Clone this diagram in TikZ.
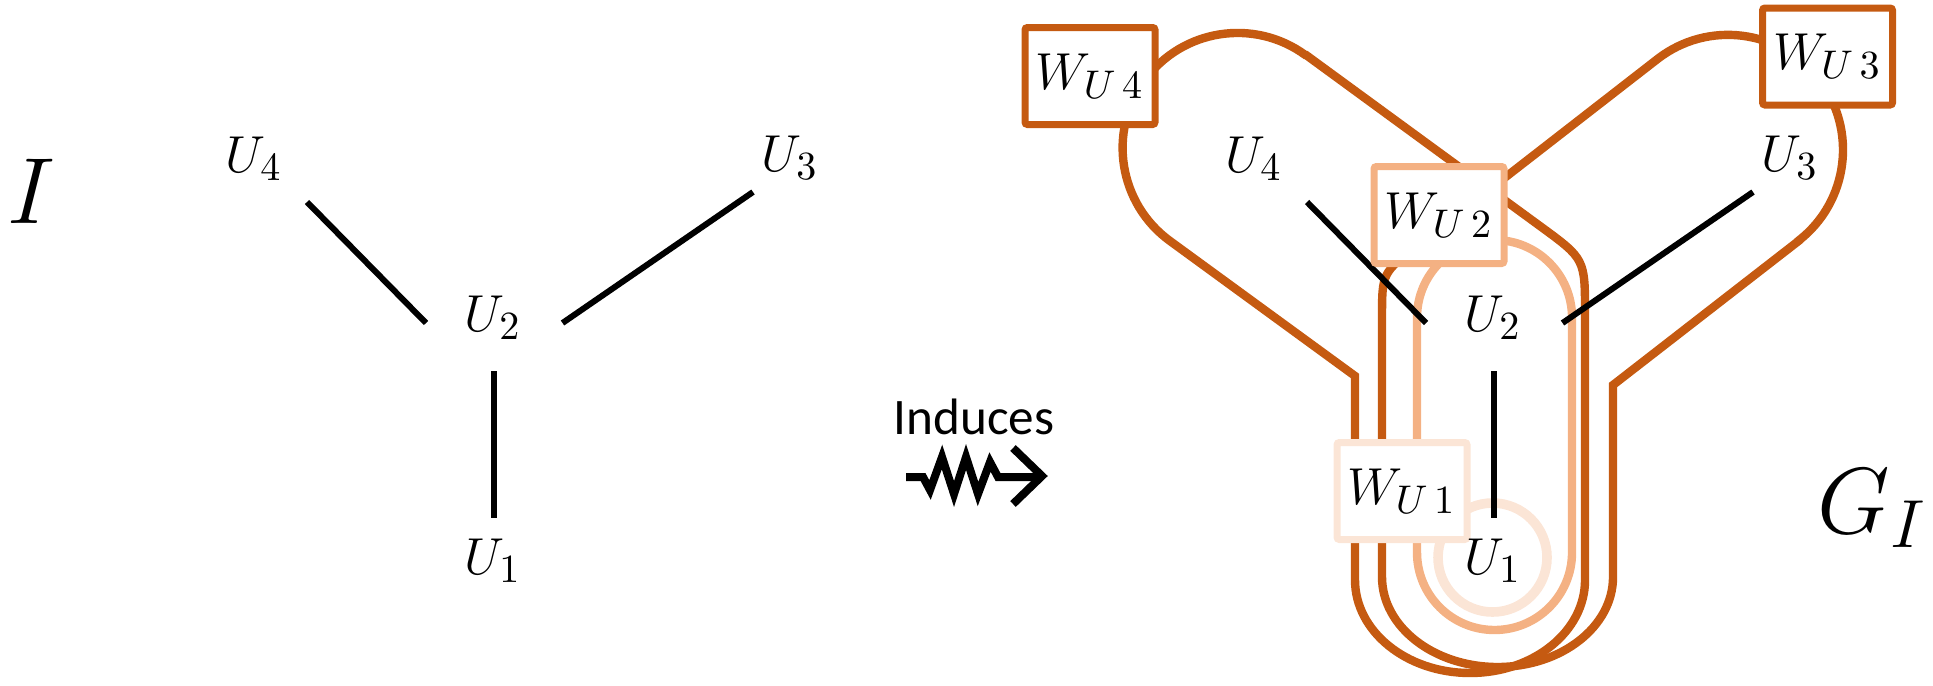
\RequirePackage{fix-cm}
\documentclass[tikz,border=0pt]{standalone}
\usepackage{fontspec}
\newfontfamily\carlito{Carlito}
\DeclareMathSizes{13}{13}{10}{8}
\DeclareMathSizes{23.5}{23.5}{17}{13}
\definecolor{dorange}{HTML}{C55A11}
\definecolor{lorange}{HTML}{F4B183}
\definecolor{vlorange}{HTML}{FBE5D6}
\tikzset{
  lbl/.style={font=\fontsize{13}{15}\selectfont, inner sep=0pt},
  edgeline/.style={line width=1.5pt, draw=black},
  hullD/.style={draw=dorange, line width=2.1pt},
  hullL/.style={draw=lorange, line width=2.1pt},
  hullVL/.style={draw=vlorange, line width=2.4pt},
  wbox/.style={fill=white, line width=1.75pt, minimum width=32.5pt, minimum height=24.25pt,
               inner sep=0pt, rounded corners=0.6pt, font=\fontsize{13}{15}\selectfont},
  biglbl/.style={font=\fontsize{23.5}{28}\selectfont, inner sep=0pt},
  squig/.style={line width=2pt, draw=black, line join=miter}
}
\begin{document}
\begin{tikzpicture}[x=0.25pt, y=-0.25pt]
\useasboundingbox (0,0) rectangle (1933,685);

% ---------- left graph I ----------
\node[biglbl] (I) at (31,191) {$I$};
\node[lbl] (a4) at (254,159) {$U_4$};
\node[lbl] (a2) at (493,318) {$U_2$};
\node[lbl] (a1) at (493,561) {$U_1$};
\node[lbl] (a3) at (790,157.5) {$U_3$};
\coordinate (a4e) at (307,202);
\coordinate (a2w) at (426,323);
\coordinate (a2e) at (562.5,323);
\coordinate (a3e) at (753,192);
\coordinate (a2s) at (494,371);
\coordinate (a1n) at (494,518);
\draw[edgeline] (a4e) -- (a2w);
\draw[edgeline] (a2e) -- (a3e);
\draw[edgeline] (a2s) -- (a1n);

% ---------- induces ----------
\node[font=\carlito\fontsize{12.8}{15}\selectfont, inner sep=0pt, anchor=base] (ind) at (974,434) {Induces};
\draw[squig] (906,477) -- (923,477) -- (930,490) -- (942,457) -- (954,494) -- (966,457)
  -- (978,494) -- (990,462) -- (998,477) -- (1040,477);
\draw[squig] (1013,448) -- (1042,476) -- (1013,504);

% ---------- hulls ----------
% W_U4 hull
\draw[hullD] (1306,55) -- (1540.6,226.5) .. controls (1585,259) .. (1585,314)
  -- (1585,580) arc[start angle=0, end angle=180, x radius=115, y radius=93]
  -- (1355,376) -- (1170,241) arc[start angle=126, end angle=306, radius=115] -- cycle;
% W_U3 hull
\draw[hullD] (1798.5,241) -- (1613,385) -- (1613,577)
  arc[start angle=0, end angle=180, x radius=115.5, y radius=90]
  -- (1382,318) .. controls (1382,273) .. (1417.6,245.4) -- (1657.5,59)
  arc[start angle=232.2, end angle=412.2, radius=115] -- cycle;
% W_U2 hull
\draw[hullL, rounded corners=19.375pt] (1417,240) rectangle (1572,630);
% W_U1 hull
\draw[hullVL] (1492.5,557.5) circle[radius=54.5];

% ---------- right graph ----------
\coordinate (b4e) at (1307,202);
\coordinate (b2w) at (1426,323);
\coordinate (b2e) at (1562.5,323);
\coordinate (b3e) at (1753,192);
\coordinate (b2s) at (1494,371);
\coordinate (b1n) at (1494,518);
\draw[edgeline] (b4e) -- (b2w);
\draw[edgeline] (b2e) -- (b3e);
\draw[edgeline] (b2s) -- (b1n);

\node[wbox, draw=dorange] (w4) at (1090,76) {$W_{U\,4}$};
\node[wbox, draw=dorange] (w3) at (1827.5,56.5) {$W_{U\,3}$};
\node[wbox, draw=lorange] (w2) at (1439,215) {$W_{U\,2}$};
\node[wbox, draw=vlorange] (w1) at (1402,491) {$W_{U\,1}$};

\node[lbl] (b4) at (1254,159) {$U_4$};
\node[lbl] (b2) at (1493,318) {$U_2$};
\node[lbl] (b1) at (1493,561) {$U_1$};
\node[lbl] (b3) at (1790,157.5) {$U_3$};

\node[biglbl, anchor=base east] (G) at (1928,533) {$G_I$};
\end{tikzpicture}
\end{document}
